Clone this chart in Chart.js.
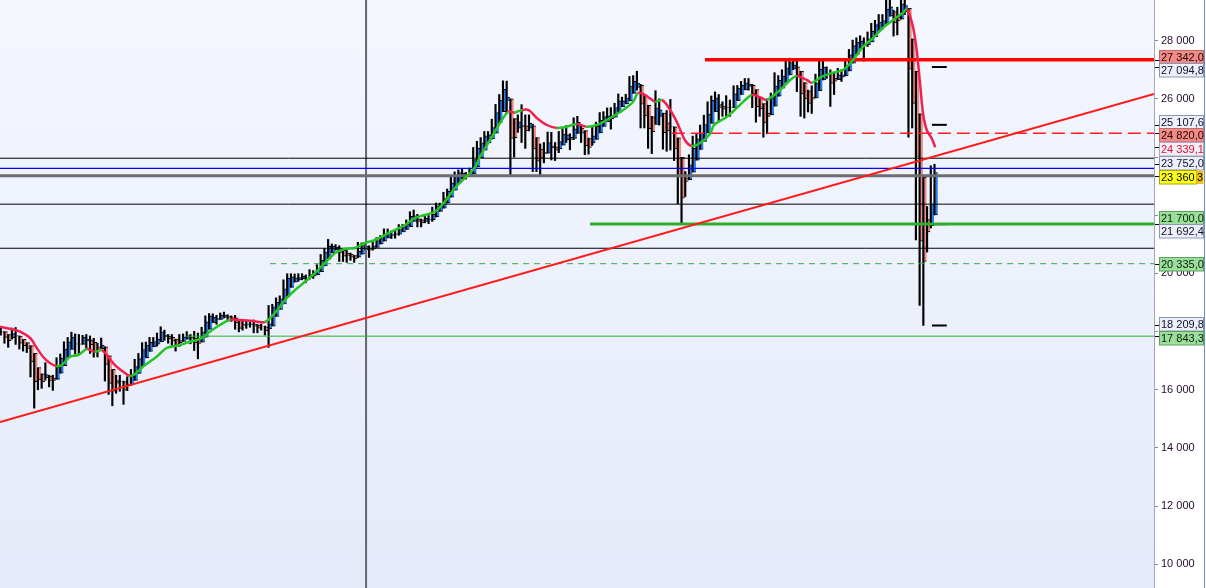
<!DOCTYPE html>
<html>
<head>
<meta charset="utf-8">
<script src="https://cdn.jsdelivr.net/npm/chart.js@4.4.1/dist/chart.umd.min.js"></script>
<style>
html, body { margin: 0; padding: 0; background: #fff; }
#wrap { width: 1206px; height: 588px; }
</style>
</head>
<body>
<div id="wrap"><canvas id="chart" width="1206" height="588"></canvas></div>
<script>
// weekly Heikin-Ashi bars, oldest first: body start, body end, wick top, wick bottom
const haOpen = [
	18010,18000,17900,17790,17860,17850,17730,17620,17520,17250,
	16760,16550,16420,16470,16400,16360,16570,16830,17120,17390,
	17590,17580,17560,17680,17710,17630,17480,17410,17480,17170,
	16700,16320,16280,16280,16140,16170,16320,16560,16810,17100,
	17320,17470,17570,17650,17820,17850,17800,17740,17620,17660,
	17740,17800,17780,17690,17640,17810,18080,18310,18400,18420,
	18490,18530,18500,18470,18390,18250,18230,18240,18260,18220,
	18170,18160,18100,18190,18520,18760,18950,19210,19520,19700,
	19780,19820,19860,19850,19910,19960,20060,20260,20490,20710,
	20820,20860,20790,20690,20660,20610,20560,20660,20810,20870,
	20840,20890,21010,21110,21220,21310,21330,21350,21430,21510,
	21610,21790,21880,21840,21790,21840,21850,21940,22130,22240,
	22420,22620,22860,23100,23290,23370,23370,23420,23660,23980,
	24240,24490,24620,24820,25170,25560,25950,26000,25320,24990,
	25100,25070,24990,25070,24670,24270,24110,24130,24310,24350,
	24290,24410,24600,24680,24640,24810,25000,24910,24650,24490,
	24610,24830,25050,25220,25320,25370,25530,25730,25830,25930,
	26190,26390,26470,26140,25780,25380,25120,25400,25510,25180,
	25040,25040,24660,23990,23290,23220,23480,23890,24260,24540,
	24830,25160,25560,25800,25750,25700,25710,25700,25940,26150,
	26310,26430,26470,26320,26020,25840,25510,25450,25750,26090,
	26370,26570,26820,27030,27100,26950,26560,26280,26060,26030,
	26280,26650,26870,26880,26710,26660,26750,26790,26960,27230,
	27530,27740,27860,27860,27960,28140,28350,28500,28590,28840,
	29000,28810,28740,29000,29110,28060,26950,25490,23300,21850,
	21640,22010
];
const haClose = [
	17980,17800,17690,17930,17840,17600,17520,17420,16970,16280,
	16340,16280,16520,16320,16320,16780,17090,17400,17650,17800,
	17570,17540,17800,17740,17550,17320,17350,17540,16870,16220,
	15950,16230,16280,15990,16200,16470,16800,17070,17380,17540,
	17630,17660,17730,17990,17880,17750,17670,17500,17690,17820,
	17860,17750,17610,17590,17990,18340,18530,18490,18450,18560,
	18570,18470,18440,18300,18110,18200,18260,18270,18190,18120,
	18160,18030,18270,18850,19010,19130,19470,19830,19880,19850,
	19860,19900,19830,19960,20020,20160,20450,20730,20930,20930,
	20900,20720,20590,20620,20560,20500,20770,20960,20930,20800,
	20950,21130,21220,21330,21400,21350,21360,21510,21600,21700,
	21960,21980,21790,21740,21890,21870,22030,22320,22360,22590,
	22820,23110,23350,23470,23450,23370,23470,23910,24300,24490,
	24730,24760,25010,25530,25960,26330,26060,24640,24670,25210,
	25040,24900,25160,24280,23860,23960,24150,24500,24380,24240,
	24530,24780,24760,24610,24970,25190,24820,24390,24330,24730,
	25060,25260,25390,25420,25410,25700,25930,25930,26030,26440,
	26600,26540,25820,25410,24980,24870,25690,25620,24840,24910,
	25040,24280,23320,22590,23160,23730,24300,24630,24820,25120,
	25480,25950,26040,25710,25650,25710,25700,26170,26370,26470,
	26550,26510,26160,25730,25660,25170,25400,26040,26440,26640,
	26780,27070,27250,27160,26810,26170,26000,25840,25990,26540,
	27020,27090,26890,26530,26610,26830,26830,27140,27510,27830,
	27940,27990,27870,28060,28320,28550,28640,28690,29090,29160,
	28610,28680,29270,29210,27020,25840,24020,21110,20410,21430,
	22380,23470
];
const highs = [
	18140,18000,17900,18120,18140,17850,17730,17620,17520,17250,
	16760,16550,16930,16500,16500,17100,17230,17650,17800,17980,
	17920,17900,17870,17900,17850,17770,17600,17780,17480,17170,
	16700,16500,16500,16300,16450,16700,17050,17250,17620,17640,
	17800,17800,17950,18167,18050,17900,17900,17740,17900,17920,
	18000,17900,18010,17950,18150,18540,18620,18610,18560,18640,
	18670,18580,18540,18560,18390,18360,18370,18380,18400,18250,
	18260,18190,18900,18940,19160,19230,19780,19990,19990,19980,
	19990,19990,19950,20130,20100,20300,20650,20850,21170,21010,
	20990,20950,20790,20790,20700,20620,21070,21050,21030,20950,
	21110,21230,21300,21530,21530,21460,21480,21680,21680,21840,
	22120,22180,22030,21870,22000,21990,22280,22420,22420,22790,
	22900,23370,23490,23560,23600,23470,23620,24330,24540,24670,
	24880,24880,25300,25810,26150,26620,26610,26000,25320,25450,
	25800,25450,25450,25130,24670,24450,24500,24860,24850,24500,
	24880,24980,25080,24800,25350,25400,25100,24910,24650,25050,
	25200,25530,25560,25690,25700,25850,26170,26060,26160,26770,
	26800,26950,26500,26140,25780,25400,26280,26000,25510,25600,
	25980,25040,24660,23990,23500,24080,24720,24800,25100,25440,
	25900,26100,26240,26150,25900,26110,25960,26450,26460,26600,
	26700,26700,26500,26320,26020,25840,26000,26200,26900,26800,
	27000,27350,27400,27300,27300,26950,26560,26300,26450,26850,
	27300,27300,27100,27000,26900,27050,27000,27350,27700,28020,
	28100,28170,28100,28300,28600,28700,28900,28900,29400,29400,
	29050,29150,29560,29570,29110,28060,26950,25490,23300,22300,
	23700,23752
];
const lows = [
	17880,17600,17460,17740,17560,17400,17330,17280,16440,15370,
	16000,16050,16330,16100,15980,16360,16570,16830,17120,17390,
	17230,17200,17560,17400,17250,17120,17130,17420,16300,15840,
	15450,15880,15950,15500,15970,16150,16320,16560,16810,17100,
	17320,17480,17500,17650,17700,17600,17500,17330,17490,17660,
	17740,17580,17350,17063,17640,17810,18080,18310,18250,18420,
	18470,18350,18350,18080,17990,18050,18110,18150,17960,17960,
	18050,17880,17460,18190,18520,18760,18950,19210,19520,19700,
	19730,19780,19680,19800,19830,19960,20060,20260,20490,20710,
	20800,20410,20410,20380,20450,20380,20540,20660,20810,20550,
	20800,20890,21010,21110,21220,21200,21210,21310,21430,21510,
	21610,21790,21600,21600,21740,21710,21790,21940,22130,22240,
	22420,22620,22860,23100,23250,23240,23330,23420,23660,23980,
	24240,24490,24620,24820,25170,25560,25500,23360,24000,24850,
	24500,24300,24900,23500,23500,23345,23800,24130,23900,23880,
	24150,24410,24500,24250,24600,24810,24500,24080,24100,24400,
	24610,24830,25050,25220,24960,25370,25530,25730,25830,25930,
	26190,26300,25000,25000,24300,24120,25120,25100,24270,24200,
	24240,23880,22400,21712,22640,23220,23480,23890,24260,24540,
	24830,25160,25560,25210,25400,25400,25400,25700,25940,26150,
	26310,26300,25700,25200,25400,24680,24800,25450,25750,26090,
	26370,26570,26820,27000,26250,25400,25340,25550,25500,26030,
	26280,26650,26700,25740,26150,26660,26600,26790,26960,27230,
	27530,27740,27300,27800,27960,28140,28350,28400,28590,28840,
	28160,28200,28740,28900,24681,25000,21150,18900,18213,20735,
	21560,22010
];

// moving average (bar position, value)
const maIdx = [-0.4,2.7,5.0,7.7,9.5,11.2,13.0,14.7,16.2,18.4,20.6,23.0,25.1,26.9,28.3,30.5,32.7,34.5,35.9,38.0,
	41.7,44.4,48.0,50.7,53.4,56.0,58.7,61.4,64.0,67.0,70.8,73.5,76.2,78.9,81.6,84.3,86.9,89.7,92.3,95.0,
	97.7,100.4,103.1,105.8,108.5,111.2,113.8,116.5,119.2,121.9,124.6,126.0,127.4,128.6,131.3,134.0,136.2,138.0,140.0,141.8,
	143.9,146.6,149.3,151.9,154.6,157.3,160.0,163.6,167.1,169.8,171.1,173.0,175.7,177.5,179.2,181.5,183.7,185.5,187.8,190.5,
	191.5,195.0,198.5,201.7,204.4,205.7,209.3,212.0,213.8,216.5,217.8,220.5,223.5,226.2,228.9,231.6,234.3,236.9,239.7,242.3,
	243.4,245.0,246.0,246.9,247.7,248.7,250.0,251.0];
const maVal = [18168,18089,17996,17780,17436,17127,16920,16817,16851,17137,17196,17402,17309,17367,17196,16851,16622,16474,16543,16793,
	17137,17436,17539,17653,17746,17996,18227,18410,18400,18370,18330,18640,19087,19430,19715,20014,20358,20702,20840,20874,
	21046,21149,21321,21493,21665,21906,22009,22122,22466,22937,23281,23452,23669,24012,24586,25171,25559,25530,25620,25610,
	25343,25102,24999,25044,25137,25044,25102,25343,25618,25903,26202,26133,25903,25962,25731,25216,24586,24380,24483,24800,
	25100,25387,25790,26133,26030,25962,26305,26649,26787,26649,26556,26763,26900,26993,27337,27794,28093,28437,28712,28963,
	29079,28481,27680,26546,25515,24930,24655,24339];

// drawn levels
const levelValues = [27342.0, 24820.0, 23960, 23610, 23360.3, 22380, 21700.0, 20865, 20335.0, 17843.3];
const levelStart  = [189.1, 180.2, -0.4, -0.4, -0.4, -0.4, 158.2, -0.4, 72.2, 49.3];
const pivotValues = [27094.8, 25107.6, 21692.4, 18209.8];
const trendFrom = 14892;
const trendTo = 26168;
const markerBar = 98;

// axis
const tickValues = [10000, 12000, 14000, 16000, 18000, 20000, 22000, 24000, 26000, 28000];
const axisLabels = [27342.0, 27094.8, 25107.6, 24820.0, 24339.1, 23752.0, 23360.3, 21700.0, 21692.4, 20335.0, 18209.8, 17843.3];
const axisKinds  = ['red', 'pivot', 'pivot', 'red', 'ma', 'pivot', 'last', 'green', 'pivot', 'green', 'pivot', 'green'];

const xMin = -0.4, xMax = 309.8;
const yMin = 9186, yMax = 29399;

const levelStyle = [
	{color: '#ff0000', width: 3.5},
	{color: '#ff1e1e', width: 1.5, dash: [13, 6]},
	{color: '#000000', width: 1},
	{color: '#0000ff', width: 1.2},
	{color: '#6c6c74', width: 3},
	{color: '#000000', width: 1},
	{color: '#2cb02c', width: 3},
	{color: '#000000', width: 1},
	{color: '#3aaa3a', width: 1, dash: [6, 5]},
	{color: '#2cb02c', width: 1}
];
const labelStyle = {
	red:   {bg: '#f28b88', fg: '#1a0000', border: '#c46a6a'},
	pivot: {bg: '#edf0f9', fg: '#101030', border: '#8a98b8'},
	ma:    {bg: '#f6eef5', fg: '#e2103e', border: '#a8a8c8'},
	last:  {bg: '#ffff1a', fg: '#000000', border: '#a8a800'},
	green: {bg: '#9cdf9c', fg: '#082008', border: '#5e9e5e'}
};

function fmt(v, decimals) {
	let s = v.toFixed(decimals);
	let parts = s.split('.');
	let whole = parts[0].replace(/\B(?=(\d{3})+(?!\d))/g, ' ');
	return parts.length > 1 ? whole + ',' + parts[1] : whole;
}

let datasets = [];

// wicks and bodies as floating bars, grouped side by side
// (first dataset is painted last, so the wicks sit on top)
datasets.push({
	type: 'bar',
	data: highs.map((h, i) => ({x: i, y: [lows[i], h]})),
	backgroundColor: '#000000',
	barThickness: 1.5,
	borderWidth: 0,
	order: 10
});
datasets.push({
	type: 'bar',
	data: haOpen.map((o, i) => ({x: i, y: [o, haClose[i]]})),
	backgroundColor: haOpen.map((o, i) => haClose[i] >= o ? '#2a7ef0' : '#ef8a82'),
	borderColor: '#000000',
	borderWidth: {top: 1, bottom: 1, right: 0, left: 0},
	borderSkipped: false,
	barThickness: 2.5,
	order: 10
});

levelValues.forEach((v, i) => {
	let st = levelStyle[i];
	datasets.push({
		type: 'line',
		data: [{x: levelStart[i], y: v}, {x: xMax, y: v}],
		borderColor: st.color,
		borderWidth: st.width,
		borderDash: st.dash || [],
		pointRadius: 0,
		order: 2
	});
});

pivotValues.forEach((v) => {
	datasets.push({
		type: 'line',
		data: [{x: 250.1, y: v}, {x: 254.1, y: v}],
		borderColor: '#000000',
		borderWidth: 2,
		pointRadius: 0,
		order: 2
	});
});

// trend line
datasets.push({
	type: 'line',
	data: [{x: xMin, y: trendFrom}, {x: xMax, y: trendTo}],
	borderColor: '#ff1a1a',
	borderWidth: 2,
	pointRadius: 0,
	order: 1
});

// vertical marker
datasets.push({
	type: 'line',
	data: [{x: markerBar, y: yMin}, {x: markerBar, y: yMax}],
	borderColor: '#66666e',
	borderWidth: 2,
	pointRadius: 0,
	order: 3
});

// moving average, green when rising, red when falling
datasets.push({
	type: 'line',
	data: maIdx.map((x, i) => ({x: x, y: maVal[i]})),
	borderWidth: 2.5,
	pointRadius: 0,
	tension: 0.3,
	segment: {
		borderColor: ctx => ctx.p1.parsed.y >= ctx.p0.parsed.y ? '#26c326' : '#f2204c'
	},
	order: 0
});

const backgroundPlugin = {
	id: 'bg',
	beforeDraw(chart) {
		let ctx = chart.ctx;
		let a = chart.chartArea;
		ctx.save();
		ctx.fillStyle = '#ffffff';
		ctx.fillRect(0, 0, chart.width, chart.height);
		let g = ctx.createLinearGradient(0, a.top, 0, a.bottom);
		g.addColorStop(0, '#f4f7fe');
		g.addColorStop(1, '#e4eaf9');
		ctx.fillStyle = g;
		ctx.fillRect(a.left, a.top, a.right - a.left, a.bottom - a.top);
		ctx.restore();
	}
};

const axisLabelPlugin = {
	id: 'axisLabels',
	afterDraw(chart) {
		let ctx = chart.ctx;
		let y = chart.scales.y;
		let left = chart.chartArea.right;
		let boxH = 13.5;

		let items = axisLabels.map((v, i) => ({v: v, kind: axisKinds[i], y0: y.getPixelForValue(v)}));
		items.sort((a, b) => a.y0 - b.y0);
		items.forEach(it => it.y = it.y0);
		for (let pass = 0; pass < 30; pass++) {
			for (let i = 0; i < items.length - 1; i++) {
				let d = items[i + 1].y - items[i].y;
				if (d < boxH) {
					let s = (boxH - d) / 2;
					items[i].y -= s;
					items[i + 1].y += s;
				}
			}
		}

		ctx.save();
		ctx.font = "11px 'Liberation Sans', Arial, sans-serif";
		ctx.textBaseline = 'middle';
		items.forEach(it => {
			let st = labelStyle[it.kind];
			// small mark at the true level
			ctx.strokeStyle = '#000000';
			ctx.lineWidth = 1;
			ctx.beginPath();
			ctx.moveTo(left + 1, Math.round(it.y0) + 0.5);
			ctx.lineTo(left + 5, Math.round(it.y0) + 0.5);
			ctx.stroke();

			let top = Math.round(it.y - boxH / 2) + 0.5;
			if (it.kind === 'last') {
				ctx.fillStyle = st.bg;
				ctx.fillRect(left + 5.5, top, 37, boxH);
				ctx.strokeStyle = st.border;
				ctx.strokeRect(left + 5.5, top, 37, boxH);
				ctx.fillStyle = '#f2c21c';
				ctx.fillRect(left + 42.5, top, 7, boxH);
				ctx.fillStyle = st.fg;
				ctx.fillText(fmt(Math.floor(it.v), 0), left + 7, top + boxH / 2 + 0.5);
				ctx.fillText('3', left + 43, top + boxH / 2 + 0.5);
			} else {
				ctx.fillStyle = st.bg;
				ctx.fillRect(left + 5.5, top, 44, boxH);
				ctx.strokeStyle = st.border;
				ctx.strokeRect(left + 5.5, top, 44, boxH);
				ctx.fillStyle = st.fg;
				ctx.fillText(fmt(it.v, 1), left + 7, top + boxH / 2 + 0.5);
			}
		});

		// outer right border
		ctx.strokeStyle = '#6f8fcc';
		ctx.beginPath();
		ctx.moveTo(chart.width - 1.5, 0);
		ctx.lineTo(chart.width - 1.5, chart.height);
		ctx.stroke();
		ctx.restore();
	}
};

// tick labels that sit under a level box are not shown
function tickColor(ctx) {
	let v = ctx.tick ? ctx.tick.value : 0;
	let covered = axisLabels.some(a => Math.abs(a - v) < 320);
	return covered ? 'rgba(0,0,0,0)' : '#240a2c';
}

new Chart(document.getElementById('chart'), {
	type: 'bar',
	data: {datasets: datasets},
	options: {
		responsive: false,
		animation: false,
		devicePixelRatio: 1,
		layout: {padding: 0},
		plugins: {
			legend: {display: false},
			tooltip: {enabled: false}
		},
		scales: {
			x: {
				type: 'linear',
				display: false,
				offset: false,
				min: xMin,
				max: xMax
			},
			y: {
				type: 'linear',
				position: 'right',
				min: yMin,
				max: yMax,
				afterBuildTicks: (scale) => {
					scale.ticks = tickValues.map(v => ({value: v}));
				},
				afterFit: (scale) => {
					scale.width = 52;
					scale.paddingTop = 0;
					scale.paddingBottom = 0;
				},
				border: {display: true, color: '#9ea8ba', width: 1},
				grid: {drawOnChartArea: false, tickLength: 4, color: '#7c869a'},
				ticks: {
					padding: 3,
					color: tickColor,
					font: {family: "'Liberation Sans', Arial, sans-serif", size: 11},
					callback: (v) => fmt(v, 0)
				}
			}
		}
	},
	plugins: [backgroundPlugin, axisLabelPlugin]
});
</script>
</body>
</html>
